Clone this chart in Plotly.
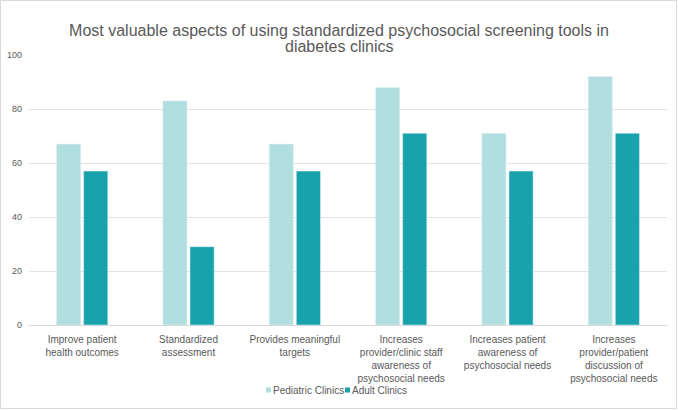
import plotly.graph_objects as go

categories = [
    "Improve patient<br>health outcomes",
    "Standardized<br>assessment",
    "Provides meaningful<br>targets",
    "Increases<br>provider/clinic staff<br>awareness of<br>psychosocial needs",
    "Increases patient<br>awareness of<br>psychosocial needs",
    "Increases<br>provider/patient<br>discussion of<br>psychosocial needs",
]
series_names = ["Pediatric Clinics", "Adult Clinics"]
pediatric = [67, 83, 67, 88, 71, 92]
adult = [57, 29, 57, 71, 57, 71]
y_ticks = [0, 20, 40, 60, 80, 100]
colors = ["#B1DFE0", "#18A3AC"]
title_lines = ["Most valuable aspects of using standardized psychosocial screening tools in",
               "diabetes clinics"]

fig = go.Figure()
fig.add_bar(x=categories, y=pediatric, name=series_names[0], marker_color=colors[0])
fig.add_bar(x=categories, y=adult, name=series_names[1], marker_color=colors[1])

W, H = 678, 410
ml, mr, mt, mb = 29, 11, 55, 85
pw, ph = W - ml - mr, H - mt - mb


def px_x(p):
    return (p - ml) / pw


def px_y(p):
    return (H - mb - p) / ph


grey = "#595959"
leg_y = 390
shapes = [dict(type="rect", xref="paper", yref="paper",
               x0=px_x(0.5), x1=px_x(W - 1.5), y0=px_y(H - 1.5), y1=px_y(0.5),
               line=dict(color="#D9D9D9", width=1), fillcolor="rgba(0,0,0,0)")]
annotations = [dict(text=title_lines[1], xref="paper", yref="paper",
                    x=px_x(339), y=px_y(47), xanchor="center", yanchor="middle",
                    showarrow=False, font=dict(size=16, color=grey))]
leg_items = [(266, 273), (345, 352)]
for (sx, tx), name, col in zip(leg_items, series_names, colors):
    shapes.append(dict(type="rect", xref="paper", yref="paper",
                       x0=px_x(sx), x1=px_x(sx + 5), y0=px_y(leg_y + 2.5), y1=px_y(leg_y - 2.5),
                       line=dict(width=0), fillcolor=col))
    annotations.append(dict(text=name, xref="paper", yref="paper",
                            x=px_x(tx), y=px_y(leg_y), xanchor="left", yanchor="middle",
                            showarrow=False, font=dict(size=10, color=grey),
                            borderpad=0, xshift=-1))

fig.update_layout(
    width=W, height=H,
    margin=dict(l=ml, r=mr, t=mt, b=mb, autoexpand=False),
    paper_bgcolor="white", plot_bgcolor="white",
    font=dict(family="Liberation Sans, Arial, sans-serif", color=grey),
    title=dict(
        text=title_lines[0],
        x=339 / W, xanchor="center", y=1 - 30 / H, yanchor="middle",
        font=dict(size=16, color=grey),
    ),
    barmode="group", bargap=0.49, bargroupgap=0.11,
    showlegend=False,
    xaxis=dict(showgrid=False, showline=True, linecolor="#D9D9D9", linewidth=1,
               tickfont=dict(size=10, color=grey), ticks="", automargin=False,
               ticklabelstandoff=5),
    yaxis=dict(range=[0, 100], tickvals=y_ticks, showgrid=True, gridcolor="#E3E3E3",
               gridwidth=1, zeroline=False, showline=False, automargin=False,
               tickfont=dict(size=9, color=grey), ticks="", ticklabelstandoff=6),
    annotations=annotations,
    shapes=shapes,
)

fig.write_html("out.html", config={"displayModeBar": False},
               post_script="document.body.style.margin='0';")
